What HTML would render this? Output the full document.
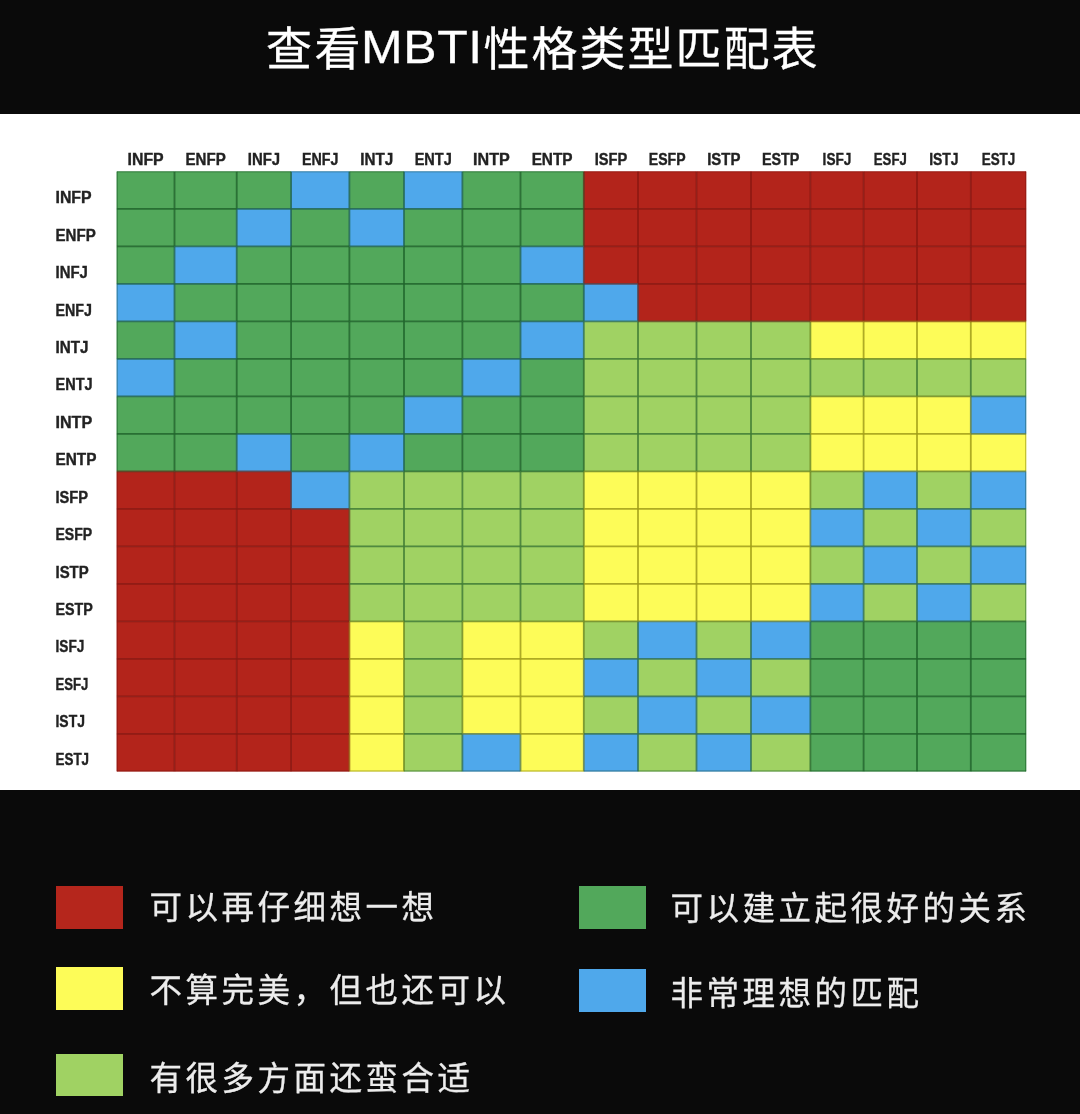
<!DOCTYPE html>
<html lang="zh-CN"><head><meta charset="utf-8"><title>查看MBTI性格类型匹配表</title>
<style>
html,body{margin:0;padding:0;background:#0a0a0a;}
body{width:1080px;height:1114px;position:relative;overflow:hidden;font-family:"Liberation Sans","Noto Sans CJK SC",sans-serif;}
.title{position:absolute;left:0;top:17.6px;width:1080px;height:62px;color:#fff;font-size:46px;line-height:62px;font-weight:400;white-space:nowrap;letter-spacing:2.4px;-webkit-text-stroke:0.3px #fff;}
.title span{position:absolute;top:0;display:block;}
.title .en{font-size:46px;letter-spacing:0.6px;-webkit-text-stroke:0.3px #fff;transform:scaleX(1.085);transform-origin:0 50%;}
.chart{position:absolute;left:0;top:114px;width:1080px;height:675.6px;background:#fff;}
.chart svg{position:absolute;left:0;top:0;}
.lg{position:absolute;color:#ececec;-webkit-text-stroke:0.3px #ececec;font-size:32.5px;line-height:44px;font-weight:400;white-space:nowrap;letter-spacing:3.5px;}
.sw{position:absolute;width:67.2px;height:42.6px;}
</style></head><body>
<div class="title"><span style="left:266px">查看</span><span class="en" style="left:361px;top:-1.8px">MBTI</span><span style="left:483.6px;letter-spacing:2px">性格类型匹配表</span></div>
<div class="chart">
<svg width="1080" height="676" viewBox="0 114 1080 676" font-family="Liberation Sans, sans-serif">

<rect x="116.7" y="171.4" width="57.8" height="37.5" fill="#52a85b"/>
<rect x="174.5" y="171.4" width="62.2" height="37.5" fill="#52a85b"/>
<rect x="236.7" y="171.4" width="54.4" height="37.5" fill="#52a85b"/>
<rect x="291.1" y="171.4" width="58.3" height="37.5" fill="#4fa8eb"/>
<rect x="349.4" y="171.4" width="54.6" height="37.5" fill="#52a85b"/>
<rect x="404" y="171.4" width="58.4" height="37.5" fill="#4fa8eb"/>
<rect x="462.4" y="171.4" width="58.1" height="37.5" fill="#52a85b"/>
<rect x="520.5" y="171.4" width="63.3" height="37.5" fill="#52a85b"/>
<rect x="583.8" y="171.4" width="54.2" height="37.5" fill="#b3241b"/>
<rect x="638" y="171.4" width="58.5" height="37.5" fill="#b3241b"/>
<rect x="696.5" y="171.4" width="54.5" height="37.5" fill="#b3241b"/>
<rect x="751" y="171.4" width="59.4" height="37.5" fill="#b3241b"/>
<rect x="810.4" y="171.4" width="53.2" height="37.5" fill="#b3241b"/>
<rect x="863.6" y="171.4" width="53.4" height="37.5" fill="#b3241b"/>
<rect x="917" y="171.4" width="53.8" height="37.5" fill="#b3241b"/>
<rect x="970.8" y="171.4" width="55.4" height="37.5" fill="#b3241b"/>
<rect x="116.7" y="208.9" width="57.8" height="37.5" fill="#52a85b"/>
<rect x="174.5" y="208.9" width="62.2" height="37.5" fill="#52a85b"/>
<rect x="236.7" y="208.9" width="54.4" height="37.5" fill="#4fa8eb"/>
<rect x="291.1" y="208.9" width="58.3" height="37.5" fill="#52a85b"/>
<rect x="349.4" y="208.9" width="54.6" height="37.5" fill="#4fa8eb"/>
<rect x="404" y="208.9" width="58.4" height="37.5" fill="#52a85b"/>
<rect x="462.4" y="208.9" width="58.1" height="37.5" fill="#52a85b"/>
<rect x="520.5" y="208.9" width="63.3" height="37.5" fill="#52a85b"/>
<rect x="583.8" y="208.9" width="54.2" height="37.5" fill="#b3241b"/>
<rect x="638" y="208.9" width="58.5" height="37.5" fill="#b3241b"/>
<rect x="696.5" y="208.9" width="54.5" height="37.5" fill="#b3241b"/>
<rect x="751" y="208.9" width="59.4" height="37.5" fill="#b3241b"/>
<rect x="810.4" y="208.9" width="53.2" height="37.5" fill="#b3241b"/>
<rect x="863.6" y="208.9" width="53.4" height="37.5" fill="#b3241b"/>
<rect x="917" y="208.9" width="53.8" height="37.5" fill="#b3241b"/>
<rect x="970.8" y="208.9" width="55.4" height="37.5" fill="#b3241b"/>
<rect x="116.7" y="246.4" width="57.8" height="37.5" fill="#52a85b"/>
<rect x="174.5" y="246.4" width="62.2" height="37.5" fill="#4fa8eb"/>
<rect x="236.7" y="246.4" width="54.4" height="37.5" fill="#52a85b"/>
<rect x="291.1" y="246.4" width="58.3" height="37.5" fill="#52a85b"/>
<rect x="349.4" y="246.4" width="54.6" height="37.5" fill="#52a85b"/>
<rect x="404" y="246.4" width="58.4" height="37.5" fill="#52a85b"/>
<rect x="462.4" y="246.4" width="58.1" height="37.5" fill="#52a85b"/>
<rect x="520.5" y="246.4" width="63.3" height="37.5" fill="#4fa8eb"/>
<rect x="583.8" y="246.4" width="54.2" height="37.5" fill="#b3241b"/>
<rect x="638" y="246.4" width="58.5" height="37.5" fill="#b3241b"/>
<rect x="696.5" y="246.4" width="54.5" height="37.5" fill="#b3241b"/>
<rect x="751" y="246.4" width="59.4" height="37.5" fill="#b3241b"/>
<rect x="810.4" y="246.4" width="53.2" height="37.5" fill="#b3241b"/>
<rect x="863.6" y="246.4" width="53.4" height="37.5" fill="#b3241b"/>
<rect x="917" y="246.4" width="53.8" height="37.5" fill="#b3241b"/>
<rect x="970.8" y="246.4" width="55.4" height="37.5" fill="#b3241b"/>
<rect x="116.7" y="283.9" width="57.8" height="37.5" fill="#4fa8eb"/>
<rect x="174.5" y="283.9" width="62.2" height="37.5" fill="#52a85b"/>
<rect x="236.7" y="283.9" width="54.4" height="37.5" fill="#52a85b"/>
<rect x="291.1" y="283.9" width="58.3" height="37.5" fill="#52a85b"/>
<rect x="349.4" y="283.9" width="54.6" height="37.5" fill="#52a85b"/>
<rect x="404" y="283.9" width="58.4" height="37.5" fill="#52a85b"/>
<rect x="462.4" y="283.9" width="58.1" height="37.5" fill="#52a85b"/>
<rect x="520.5" y="283.9" width="63.3" height="37.5" fill="#52a85b"/>
<rect x="583.8" y="283.9" width="54.2" height="37.5" fill="#4fa8eb"/>
<rect x="638" y="283.9" width="58.5" height="37.5" fill="#b3241b"/>
<rect x="696.5" y="283.9" width="54.5" height="37.5" fill="#b3241b"/>
<rect x="751" y="283.9" width="59.4" height="37.5" fill="#b3241b"/>
<rect x="810.4" y="283.9" width="53.2" height="37.5" fill="#b3241b"/>
<rect x="863.6" y="283.9" width="53.4" height="37.5" fill="#b3241b"/>
<rect x="917" y="283.9" width="53.8" height="37.5" fill="#b3241b"/>
<rect x="970.8" y="283.9" width="55.4" height="37.5" fill="#b3241b"/>
<rect x="116.7" y="321.4" width="57.8" height="37.5" fill="#52a85b"/>
<rect x="174.5" y="321.4" width="62.2" height="37.5" fill="#4fa8eb"/>
<rect x="236.7" y="321.4" width="54.4" height="37.5" fill="#52a85b"/>
<rect x="291.1" y="321.4" width="58.3" height="37.5" fill="#52a85b"/>
<rect x="349.4" y="321.4" width="54.6" height="37.5" fill="#52a85b"/>
<rect x="404" y="321.4" width="58.4" height="37.5" fill="#52a85b"/>
<rect x="462.4" y="321.4" width="58.1" height="37.5" fill="#52a85b"/>
<rect x="520.5" y="321.4" width="63.3" height="37.5" fill="#4fa8eb"/>
<rect x="583.8" y="321.4" width="54.2" height="37.5" fill="#a0d263"/>
<rect x="638" y="321.4" width="58.5" height="37.5" fill="#a0d263"/>
<rect x="696.5" y="321.4" width="54.5" height="37.5" fill="#a0d263"/>
<rect x="751" y="321.4" width="59.4" height="37.5" fill="#a0d263"/>
<rect x="810.4" y="321.4" width="53.2" height="37.5" fill="#fdfc58"/>
<rect x="863.6" y="321.4" width="53.4" height="37.5" fill="#fdfc58"/>
<rect x="917" y="321.4" width="53.8" height="37.5" fill="#fdfc58"/>
<rect x="970.8" y="321.4" width="55.4" height="37.5" fill="#fdfc58"/>
<rect x="116.7" y="358.9" width="57.8" height="37.5" fill="#4fa8eb"/>
<rect x="174.5" y="358.9" width="62.2" height="37.5" fill="#52a85b"/>
<rect x="236.7" y="358.9" width="54.4" height="37.5" fill="#52a85b"/>
<rect x="291.1" y="358.9" width="58.3" height="37.5" fill="#52a85b"/>
<rect x="349.4" y="358.9" width="54.6" height="37.5" fill="#52a85b"/>
<rect x="404" y="358.9" width="58.4" height="37.5" fill="#52a85b"/>
<rect x="462.4" y="358.9" width="58.1" height="37.5" fill="#4fa8eb"/>
<rect x="520.5" y="358.9" width="63.3" height="37.5" fill="#52a85b"/>
<rect x="583.8" y="358.9" width="54.2" height="37.5" fill="#a0d263"/>
<rect x="638" y="358.9" width="58.5" height="37.5" fill="#a0d263"/>
<rect x="696.5" y="358.9" width="54.5" height="37.5" fill="#a0d263"/>
<rect x="751" y="358.9" width="59.4" height="37.5" fill="#a0d263"/>
<rect x="810.4" y="358.9" width="53.2" height="37.5" fill="#a0d263"/>
<rect x="863.6" y="358.9" width="53.4" height="37.5" fill="#a0d263"/>
<rect x="917" y="358.9" width="53.8" height="37.5" fill="#a0d263"/>
<rect x="970.8" y="358.9" width="55.4" height="37.5" fill="#a0d263"/>
<rect x="116.7" y="396.4" width="57.8" height="37.5" fill="#52a85b"/>
<rect x="174.5" y="396.4" width="62.2" height="37.5" fill="#52a85b"/>
<rect x="236.7" y="396.4" width="54.4" height="37.5" fill="#52a85b"/>
<rect x="291.1" y="396.4" width="58.3" height="37.5" fill="#52a85b"/>
<rect x="349.4" y="396.4" width="54.6" height="37.5" fill="#52a85b"/>
<rect x="404" y="396.4" width="58.4" height="37.5" fill="#4fa8eb"/>
<rect x="462.4" y="396.4" width="58.1" height="37.5" fill="#52a85b"/>
<rect x="520.5" y="396.4" width="63.3" height="37.5" fill="#52a85b"/>
<rect x="583.8" y="396.4" width="54.2" height="37.5" fill="#a0d263"/>
<rect x="638" y="396.4" width="58.5" height="37.5" fill="#a0d263"/>
<rect x="696.5" y="396.4" width="54.5" height="37.5" fill="#a0d263"/>
<rect x="751" y="396.4" width="59.4" height="37.5" fill="#a0d263"/>
<rect x="810.4" y="396.4" width="53.2" height="37.5" fill="#fdfc58"/>
<rect x="863.6" y="396.4" width="53.4" height="37.5" fill="#fdfc58"/>
<rect x="917" y="396.4" width="53.8" height="37.5" fill="#fdfc58"/>
<rect x="970.8" y="396.4" width="55.4" height="37.5" fill="#4fa8eb"/>
<rect x="116.7" y="433.9" width="57.8" height="37.5" fill="#52a85b"/>
<rect x="174.5" y="433.9" width="62.2" height="37.5" fill="#52a85b"/>
<rect x="236.7" y="433.9" width="54.4" height="37.5" fill="#4fa8eb"/>
<rect x="291.1" y="433.9" width="58.3" height="37.5" fill="#52a85b"/>
<rect x="349.4" y="433.9" width="54.6" height="37.5" fill="#4fa8eb"/>
<rect x="404" y="433.9" width="58.4" height="37.5" fill="#52a85b"/>
<rect x="462.4" y="433.9" width="58.1" height="37.5" fill="#52a85b"/>
<rect x="520.5" y="433.9" width="63.3" height="37.5" fill="#52a85b"/>
<rect x="583.8" y="433.9" width="54.2" height="37.5" fill="#a0d263"/>
<rect x="638" y="433.9" width="58.5" height="37.5" fill="#a0d263"/>
<rect x="696.5" y="433.9" width="54.5" height="37.5" fill="#a0d263"/>
<rect x="751" y="433.9" width="59.4" height="37.5" fill="#a0d263"/>
<rect x="810.4" y="433.9" width="53.2" height="37.5" fill="#fdfc58"/>
<rect x="863.6" y="433.9" width="53.4" height="37.5" fill="#fdfc58"/>
<rect x="917" y="433.9" width="53.8" height="37.5" fill="#fdfc58"/>
<rect x="970.8" y="433.9" width="55.4" height="37.5" fill="#fdfc58"/>
<rect x="116.7" y="471.4" width="57.8" height="37.5" fill="#b3241b"/>
<rect x="174.5" y="471.4" width="62.2" height="37.5" fill="#b3241b"/>
<rect x="236.7" y="471.4" width="54.4" height="37.5" fill="#b3241b"/>
<rect x="291.1" y="471.4" width="58.3" height="37.5" fill="#4fa8eb"/>
<rect x="349.4" y="471.4" width="54.6" height="37.5" fill="#a0d263"/>
<rect x="404" y="471.4" width="58.4" height="37.5" fill="#a0d263"/>
<rect x="462.4" y="471.4" width="58.1" height="37.5" fill="#a0d263"/>
<rect x="520.5" y="471.4" width="63.3" height="37.5" fill="#a0d263"/>
<rect x="583.8" y="471.4" width="54.2" height="37.5" fill="#fdfc58"/>
<rect x="638" y="471.4" width="58.5" height="37.5" fill="#fdfc58"/>
<rect x="696.5" y="471.4" width="54.5" height="37.5" fill="#fdfc58"/>
<rect x="751" y="471.4" width="59.4" height="37.5" fill="#fdfc58"/>
<rect x="810.4" y="471.4" width="53.2" height="37.5" fill="#a0d263"/>
<rect x="863.6" y="471.4" width="53.4" height="37.5" fill="#4fa8eb"/>
<rect x="917" y="471.4" width="53.8" height="37.5" fill="#a0d263"/>
<rect x="970.8" y="471.4" width="55.4" height="37.5" fill="#4fa8eb"/>
<rect x="116.7" y="508.9" width="57.8" height="37.5" fill="#b3241b"/>
<rect x="174.5" y="508.9" width="62.2" height="37.5" fill="#b3241b"/>
<rect x="236.7" y="508.9" width="54.4" height="37.5" fill="#b3241b"/>
<rect x="291.1" y="508.9" width="58.3" height="37.5" fill="#b3241b"/>
<rect x="349.4" y="508.9" width="54.6" height="37.5" fill="#a0d263"/>
<rect x="404" y="508.9" width="58.4" height="37.5" fill="#a0d263"/>
<rect x="462.4" y="508.9" width="58.1" height="37.5" fill="#a0d263"/>
<rect x="520.5" y="508.9" width="63.3" height="37.5" fill="#a0d263"/>
<rect x="583.8" y="508.9" width="54.2" height="37.5" fill="#fdfc58"/>
<rect x="638" y="508.9" width="58.5" height="37.5" fill="#fdfc58"/>
<rect x="696.5" y="508.9" width="54.5" height="37.5" fill="#fdfc58"/>
<rect x="751" y="508.9" width="59.4" height="37.5" fill="#fdfc58"/>
<rect x="810.4" y="508.9" width="53.2" height="37.5" fill="#4fa8eb"/>
<rect x="863.6" y="508.9" width="53.4" height="37.5" fill="#a0d263"/>
<rect x="917" y="508.9" width="53.8" height="37.5" fill="#4fa8eb"/>
<rect x="970.8" y="508.9" width="55.4" height="37.5" fill="#a0d263"/>
<rect x="116.7" y="546.4" width="57.8" height="37.5" fill="#b3241b"/>
<rect x="174.5" y="546.4" width="62.2" height="37.5" fill="#b3241b"/>
<rect x="236.7" y="546.4" width="54.4" height="37.5" fill="#b3241b"/>
<rect x="291.1" y="546.4" width="58.3" height="37.5" fill="#b3241b"/>
<rect x="349.4" y="546.4" width="54.6" height="37.5" fill="#a0d263"/>
<rect x="404" y="546.4" width="58.4" height="37.5" fill="#a0d263"/>
<rect x="462.4" y="546.4" width="58.1" height="37.5" fill="#a0d263"/>
<rect x="520.5" y="546.4" width="63.3" height="37.5" fill="#a0d263"/>
<rect x="583.8" y="546.4" width="54.2" height="37.5" fill="#fdfc58"/>
<rect x="638" y="546.4" width="58.5" height="37.5" fill="#fdfc58"/>
<rect x="696.5" y="546.4" width="54.5" height="37.5" fill="#fdfc58"/>
<rect x="751" y="546.4" width="59.4" height="37.5" fill="#fdfc58"/>
<rect x="810.4" y="546.4" width="53.2" height="37.5" fill="#a0d263"/>
<rect x="863.6" y="546.4" width="53.4" height="37.5" fill="#4fa8eb"/>
<rect x="917" y="546.4" width="53.8" height="37.5" fill="#a0d263"/>
<rect x="970.8" y="546.4" width="55.4" height="37.5" fill="#4fa8eb"/>
<rect x="116.7" y="583.9" width="57.8" height="37.5" fill="#b3241b"/>
<rect x="174.5" y="583.9" width="62.2" height="37.5" fill="#b3241b"/>
<rect x="236.7" y="583.9" width="54.4" height="37.5" fill="#b3241b"/>
<rect x="291.1" y="583.9" width="58.3" height="37.5" fill="#b3241b"/>
<rect x="349.4" y="583.9" width="54.6" height="37.5" fill="#a0d263"/>
<rect x="404" y="583.9" width="58.4" height="37.5" fill="#a0d263"/>
<rect x="462.4" y="583.9" width="58.1" height="37.5" fill="#a0d263"/>
<rect x="520.5" y="583.9" width="63.3" height="37.5" fill="#a0d263"/>
<rect x="583.8" y="583.9" width="54.2" height="37.5" fill="#fdfc58"/>
<rect x="638" y="583.9" width="58.5" height="37.5" fill="#fdfc58"/>
<rect x="696.5" y="583.9" width="54.5" height="37.5" fill="#fdfc58"/>
<rect x="751" y="583.9" width="59.4" height="37.5" fill="#fdfc58"/>
<rect x="810.4" y="583.9" width="53.2" height="37.5" fill="#4fa8eb"/>
<rect x="863.6" y="583.9" width="53.4" height="37.5" fill="#a0d263"/>
<rect x="917" y="583.9" width="53.8" height="37.5" fill="#4fa8eb"/>
<rect x="970.8" y="583.9" width="55.4" height="37.5" fill="#a0d263"/>
<rect x="116.7" y="621.4" width="57.8" height="37.5" fill="#b3241b"/>
<rect x="174.5" y="621.4" width="62.2" height="37.5" fill="#b3241b"/>
<rect x="236.7" y="621.4" width="54.4" height="37.5" fill="#b3241b"/>
<rect x="291.1" y="621.4" width="58.3" height="37.5" fill="#b3241b"/>
<rect x="349.4" y="621.4" width="54.6" height="37.5" fill="#fdfc58"/>
<rect x="404" y="621.4" width="58.4" height="37.5" fill="#a0d263"/>
<rect x="462.4" y="621.4" width="58.1" height="37.5" fill="#fdfc58"/>
<rect x="520.5" y="621.4" width="63.3" height="37.5" fill="#fdfc58"/>
<rect x="583.8" y="621.4" width="54.2" height="37.5" fill="#a0d263"/>
<rect x="638" y="621.4" width="58.5" height="37.5" fill="#4fa8eb"/>
<rect x="696.5" y="621.4" width="54.5" height="37.5" fill="#a0d263"/>
<rect x="751" y="621.4" width="59.4" height="37.5" fill="#4fa8eb"/>
<rect x="810.4" y="621.4" width="53.2" height="37.5" fill="#52a85b"/>
<rect x="863.6" y="621.4" width="53.4" height="37.5" fill="#52a85b"/>
<rect x="917" y="621.4" width="53.8" height="37.5" fill="#52a85b"/>
<rect x="970.8" y="621.4" width="55.4" height="37.5" fill="#52a85b"/>
<rect x="116.7" y="658.9" width="57.8" height="37.5" fill="#b3241b"/>
<rect x="174.5" y="658.9" width="62.2" height="37.5" fill="#b3241b"/>
<rect x="236.7" y="658.9" width="54.4" height="37.5" fill="#b3241b"/>
<rect x="291.1" y="658.9" width="58.3" height="37.5" fill="#b3241b"/>
<rect x="349.4" y="658.9" width="54.6" height="37.5" fill="#fdfc58"/>
<rect x="404" y="658.9" width="58.4" height="37.5" fill="#a0d263"/>
<rect x="462.4" y="658.9" width="58.1" height="37.5" fill="#fdfc58"/>
<rect x="520.5" y="658.9" width="63.3" height="37.5" fill="#fdfc58"/>
<rect x="583.8" y="658.9" width="54.2" height="37.5" fill="#4fa8eb"/>
<rect x="638" y="658.9" width="58.5" height="37.5" fill="#a0d263"/>
<rect x="696.5" y="658.9" width="54.5" height="37.5" fill="#4fa8eb"/>
<rect x="751" y="658.9" width="59.4" height="37.5" fill="#a0d263"/>
<rect x="810.4" y="658.9" width="53.2" height="37.5" fill="#52a85b"/>
<rect x="863.6" y="658.9" width="53.4" height="37.5" fill="#52a85b"/>
<rect x="917" y="658.9" width="53.8" height="37.5" fill="#52a85b"/>
<rect x="970.8" y="658.9" width="55.4" height="37.5" fill="#52a85b"/>
<rect x="116.7" y="696.4" width="57.8" height="37.5" fill="#b3241b"/>
<rect x="174.5" y="696.4" width="62.2" height="37.5" fill="#b3241b"/>
<rect x="236.7" y="696.4" width="54.4" height="37.5" fill="#b3241b"/>
<rect x="291.1" y="696.4" width="58.3" height="37.5" fill="#b3241b"/>
<rect x="349.4" y="696.4" width="54.6" height="37.5" fill="#fdfc58"/>
<rect x="404" y="696.4" width="58.4" height="37.5" fill="#a0d263"/>
<rect x="462.4" y="696.4" width="58.1" height="37.5" fill="#fdfc58"/>
<rect x="520.5" y="696.4" width="63.3" height="37.5" fill="#fdfc58"/>
<rect x="583.8" y="696.4" width="54.2" height="37.5" fill="#a0d263"/>
<rect x="638" y="696.4" width="58.5" height="37.5" fill="#4fa8eb"/>
<rect x="696.5" y="696.4" width="54.5" height="37.5" fill="#a0d263"/>
<rect x="751" y="696.4" width="59.4" height="37.5" fill="#4fa8eb"/>
<rect x="810.4" y="696.4" width="53.2" height="37.5" fill="#52a85b"/>
<rect x="863.6" y="696.4" width="53.4" height="37.5" fill="#52a85b"/>
<rect x="917" y="696.4" width="53.8" height="37.5" fill="#52a85b"/>
<rect x="970.8" y="696.4" width="55.4" height="37.5" fill="#52a85b"/>
<rect x="116.7" y="733.9" width="57.8" height="37.5" fill="#b3241b"/>
<rect x="174.5" y="733.9" width="62.2" height="37.5" fill="#b3241b"/>
<rect x="236.7" y="733.9" width="54.4" height="37.5" fill="#b3241b"/>
<rect x="291.1" y="733.9" width="58.3" height="37.5" fill="#b3241b"/>
<rect x="349.4" y="733.9" width="54.6" height="37.5" fill="#fdfc58"/>
<rect x="404" y="733.9" width="58.4" height="37.5" fill="#a0d263"/>
<rect x="462.4" y="733.9" width="58.1" height="37.5" fill="#4fa8eb"/>
<rect x="520.5" y="733.9" width="63.3" height="37.5" fill="#fdfc58"/>
<rect x="583.8" y="733.9" width="54.2" height="37.5" fill="#4fa8eb"/>
<rect x="638" y="733.9" width="58.5" height="37.5" fill="#a0d263"/>
<rect x="696.5" y="733.9" width="54.5" height="37.5" fill="#4fa8eb"/>
<rect x="751" y="733.9" width="59.4" height="37.5" fill="#a0d263"/>
<rect x="810.4" y="733.9" width="53.2" height="37.5" fill="#52a85b"/>
<rect x="863.6" y="733.9" width="53.4" height="37.5" fill="#52a85b"/>
<rect x="917" y="733.9" width="53.8" height="37.5" fill="#52a85b"/>
<rect x="970.8" y="733.9" width="55.4" height="37.5" fill="#52a85b"/>
<clipPath id="gc"><rect x="116.7" y="171.4" width="909.5" height="600.0"/></clipPath>
<g clip-path="url(#gc)" stroke-width="1.8" fill="none" stroke-opacity="0.85">
<line x1="116.7" y1="171.4" x2="116.7" y2="208.9" stroke="#1e642a"/>
<line x1="174.5" y1="171.4" x2="174.5" y2="208.9" stroke="#1e642a"/>
<line x1="236.7" y1="171.4" x2="236.7" y2="208.9" stroke="#1e642a"/>
<line x1="291.1" y1="171.4" x2="291.1" y2="208.9" stroke="#226654"/>
<line x1="349.4" y1="171.4" x2="349.4" y2="208.9" stroke="#226654"/>
<line x1="404" y1="171.4" x2="404" y2="208.9" stroke="#226654"/>
<line x1="462.4" y1="171.4" x2="462.4" y2="208.9" stroke="#226654"/>
<line x1="520.5" y1="171.4" x2="520.5" y2="208.9" stroke="#1e642a"/>
<line x1="583.8" y1="171.4" x2="583.8" y2="208.9" stroke="#543e1e"/>
<line x1="638" y1="171.4" x2="638" y2="208.9" stroke="#8a1812"/>
<line x1="696.5" y1="171.4" x2="696.5" y2="208.9" stroke="#8a1812"/>
<line x1="751" y1="171.4" x2="751" y2="208.9" stroke="#8a1812"/>
<line x1="810.4" y1="171.4" x2="810.4" y2="208.9" stroke="#8a1812"/>
<line x1="863.6" y1="171.4" x2="863.6" y2="208.9" stroke="#8a1812"/>
<line x1="917" y1="171.4" x2="917" y2="208.9" stroke="#8a1812"/>
<line x1="970.8" y1="171.4" x2="970.8" y2="208.9" stroke="#8a1812"/>
<line x1="1026.2" y1="171.4" x2="1026.2" y2="208.9" stroke="#8a1812"/>
<line x1="116.7" y1="208.9" x2="116.7" y2="246.4" stroke="#1e642a"/>
<line x1="174.5" y1="208.9" x2="174.5" y2="246.4" stroke="#1e642a"/>
<line x1="236.7" y1="208.9" x2="236.7" y2="246.4" stroke="#226654"/>
<line x1="291.1" y1="208.9" x2="291.1" y2="246.4" stroke="#226654"/>
<line x1="349.4" y1="208.9" x2="349.4" y2="246.4" stroke="#226654"/>
<line x1="404" y1="208.9" x2="404" y2="246.4" stroke="#226654"/>
<line x1="462.4" y1="208.9" x2="462.4" y2="246.4" stroke="#1e642a"/>
<line x1="520.5" y1="208.9" x2="520.5" y2="246.4" stroke="#1e642a"/>
<line x1="583.8" y1="208.9" x2="583.8" y2="246.4" stroke="#543e1e"/>
<line x1="638" y1="208.9" x2="638" y2="246.4" stroke="#8a1812"/>
<line x1="696.5" y1="208.9" x2="696.5" y2="246.4" stroke="#8a1812"/>
<line x1="751" y1="208.9" x2="751" y2="246.4" stroke="#8a1812"/>
<line x1="810.4" y1="208.9" x2="810.4" y2="246.4" stroke="#8a1812"/>
<line x1="863.6" y1="208.9" x2="863.6" y2="246.4" stroke="#8a1812"/>
<line x1="917" y1="208.9" x2="917" y2="246.4" stroke="#8a1812"/>
<line x1="970.8" y1="208.9" x2="970.8" y2="246.4" stroke="#8a1812"/>
<line x1="1026.2" y1="208.9" x2="1026.2" y2="246.4" stroke="#8a1812"/>
<line x1="116.7" y1="246.4" x2="116.7" y2="283.9" stroke="#1e642a"/>
<line x1="174.5" y1="246.4" x2="174.5" y2="283.9" stroke="#226654"/>
<line x1="236.7" y1="246.4" x2="236.7" y2="283.9" stroke="#226654"/>
<line x1="291.1" y1="246.4" x2="291.1" y2="283.9" stroke="#1e642a"/>
<line x1="349.4" y1="246.4" x2="349.4" y2="283.9" stroke="#1e642a"/>
<line x1="404" y1="246.4" x2="404" y2="283.9" stroke="#1e642a"/>
<line x1="462.4" y1="246.4" x2="462.4" y2="283.9" stroke="#1e642a"/>
<line x1="520.5" y1="246.4" x2="520.5" y2="283.9" stroke="#226654"/>
<line x1="583.8" y1="246.4" x2="583.8" y2="283.9" stroke="#584048"/>
<line x1="638" y1="246.4" x2="638" y2="283.9" stroke="#8a1812"/>
<line x1="696.5" y1="246.4" x2="696.5" y2="283.9" stroke="#8a1812"/>
<line x1="751" y1="246.4" x2="751" y2="283.9" stroke="#8a1812"/>
<line x1="810.4" y1="246.4" x2="810.4" y2="283.9" stroke="#8a1812"/>
<line x1="863.6" y1="246.4" x2="863.6" y2="283.9" stroke="#8a1812"/>
<line x1="917" y1="246.4" x2="917" y2="283.9" stroke="#8a1812"/>
<line x1="970.8" y1="246.4" x2="970.8" y2="283.9" stroke="#8a1812"/>
<line x1="1026.2" y1="246.4" x2="1026.2" y2="283.9" stroke="#8a1812"/>
<line x1="116.7" y1="283.9" x2="116.7" y2="321.4" stroke="#26697d"/>
<line x1="174.5" y1="283.9" x2="174.5" y2="321.4" stroke="#226654"/>
<line x1="236.7" y1="283.9" x2="236.7" y2="321.4" stroke="#1e642a"/>
<line x1="291.1" y1="283.9" x2="291.1" y2="321.4" stroke="#1e642a"/>
<line x1="349.4" y1="283.9" x2="349.4" y2="321.4" stroke="#1e642a"/>
<line x1="404" y1="283.9" x2="404" y2="321.4" stroke="#1e642a"/>
<line x1="462.4" y1="283.9" x2="462.4" y2="321.4" stroke="#1e642a"/>
<line x1="520.5" y1="283.9" x2="520.5" y2="321.4" stroke="#1e642a"/>
<line x1="583.8" y1="283.9" x2="583.8" y2="321.4" stroke="#226654"/>
<line x1="638" y1="283.9" x2="638" y2="321.4" stroke="#584048"/>
<line x1="696.5" y1="283.9" x2="696.5" y2="321.4" stroke="#8a1812"/>
<line x1="751" y1="283.9" x2="751" y2="321.4" stroke="#8a1812"/>
<line x1="810.4" y1="283.9" x2="810.4" y2="321.4" stroke="#8a1812"/>
<line x1="863.6" y1="283.9" x2="863.6" y2="321.4" stroke="#8a1812"/>
<line x1="917" y1="283.9" x2="917" y2="321.4" stroke="#8a1812"/>
<line x1="970.8" y1="283.9" x2="970.8" y2="321.4" stroke="#8a1812"/>
<line x1="1026.2" y1="283.9" x2="1026.2" y2="321.4" stroke="#8a1812"/>
<line x1="116.7" y1="321.4" x2="116.7" y2="358.9" stroke="#1e642a"/>
<line x1="174.5" y1="321.4" x2="174.5" y2="358.9" stroke="#226654"/>
<line x1="236.7" y1="321.4" x2="236.7" y2="358.9" stroke="#226654"/>
<line x1="291.1" y1="321.4" x2="291.1" y2="358.9" stroke="#1e642a"/>
<line x1="349.4" y1="321.4" x2="349.4" y2="358.9" stroke="#1e642a"/>
<line x1="404" y1="321.4" x2="404" y2="358.9" stroke="#1e642a"/>
<line x1="462.4" y1="321.4" x2="462.4" y2="358.9" stroke="#1e642a"/>
<line x1="520.5" y1="321.4" x2="520.5" y2="358.9" stroke="#226654"/>
<line x1="583.8" y1="321.4" x2="583.8" y2="358.9" stroke="#327258"/>
<line x1="638" y1="321.4" x2="638" y2="358.9" stroke="#3e7a34"/>
<line x1="696.5" y1="321.4" x2="696.5" y2="358.9" stroke="#3e7a34"/>
<line x1="751" y1="321.4" x2="751" y2="358.9" stroke="#3e7a34"/>
<line x1="810.4" y1="321.4" x2="810.4" y2="358.9" stroke="#6f8b25"/>
<line x1="863.6" y1="321.4" x2="863.6" y2="358.9" stroke="#a09c16"/>
<line x1="917" y1="321.4" x2="917" y2="358.9" stroke="#a09c16"/>
<line x1="970.8" y1="321.4" x2="970.8" y2="358.9" stroke="#a09c16"/>
<line x1="1026.2" y1="321.4" x2="1026.2" y2="358.9" stroke="#a09c16"/>
<line x1="116.7" y1="358.9" x2="116.7" y2="396.4" stroke="#26697d"/>
<line x1="174.5" y1="358.9" x2="174.5" y2="396.4" stroke="#226654"/>
<line x1="236.7" y1="358.9" x2="236.7" y2="396.4" stroke="#1e642a"/>
<line x1="291.1" y1="358.9" x2="291.1" y2="396.4" stroke="#1e642a"/>
<line x1="349.4" y1="358.9" x2="349.4" y2="396.4" stroke="#1e642a"/>
<line x1="404" y1="358.9" x2="404" y2="396.4" stroke="#1e642a"/>
<line x1="462.4" y1="358.9" x2="462.4" y2="396.4" stroke="#226654"/>
<line x1="520.5" y1="358.9" x2="520.5" y2="396.4" stroke="#226654"/>
<line x1="583.8" y1="358.9" x2="583.8" y2="396.4" stroke="#2e6f2f"/>
<line x1="638" y1="358.9" x2="638" y2="396.4" stroke="#3e7a34"/>
<line x1="696.5" y1="358.9" x2="696.5" y2="396.4" stroke="#3e7a34"/>
<line x1="751" y1="358.9" x2="751" y2="396.4" stroke="#3e7a34"/>
<line x1="810.4" y1="358.9" x2="810.4" y2="396.4" stroke="#3e7a34"/>
<line x1="863.6" y1="358.9" x2="863.6" y2="396.4" stroke="#3e7a34"/>
<line x1="917" y1="358.9" x2="917" y2="396.4" stroke="#3e7a34"/>
<line x1="970.8" y1="358.9" x2="970.8" y2="396.4" stroke="#3e7a34"/>
<line x1="1026.2" y1="358.9" x2="1026.2" y2="396.4" stroke="#3e7a34"/>
<line x1="116.7" y1="396.4" x2="116.7" y2="433.9" stroke="#1e642a"/>
<line x1="174.5" y1="396.4" x2="174.5" y2="433.9" stroke="#1e642a"/>
<line x1="236.7" y1="396.4" x2="236.7" y2="433.9" stroke="#1e642a"/>
<line x1="291.1" y1="396.4" x2="291.1" y2="433.9" stroke="#1e642a"/>
<line x1="349.4" y1="396.4" x2="349.4" y2="433.9" stroke="#1e642a"/>
<line x1="404" y1="396.4" x2="404" y2="433.9" stroke="#226654"/>
<line x1="462.4" y1="396.4" x2="462.4" y2="433.9" stroke="#226654"/>
<line x1="520.5" y1="396.4" x2="520.5" y2="433.9" stroke="#1e642a"/>
<line x1="583.8" y1="396.4" x2="583.8" y2="433.9" stroke="#2e6f2f"/>
<line x1="638" y1="396.4" x2="638" y2="433.9" stroke="#3e7a34"/>
<line x1="696.5" y1="396.4" x2="696.5" y2="433.9" stroke="#3e7a34"/>
<line x1="751" y1="396.4" x2="751" y2="433.9" stroke="#3e7a34"/>
<line x1="810.4" y1="396.4" x2="810.4" y2="433.9" stroke="#6f8b25"/>
<line x1="863.6" y1="396.4" x2="863.6" y2="433.9" stroke="#a09c16"/>
<line x1="917" y1="396.4" x2="917" y2="433.9" stroke="#a09c16"/>
<line x1="970.8" y1="396.4" x2="970.8" y2="433.9" stroke="#63824a"/>
<line x1="1026.2" y1="396.4" x2="1026.2" y2="433.9" stroke="#26697d"/>
<line x1="116.7" y1="433.9" x2="116.7" y2="471.4" stroke="#1e642a"/>
<line x1="174.5" y1="433.9" x2="174.5" y2="471.4" stroke="#1e642a"/>
<line x1="236.7" y1="433.9" x2="236.7" y2="471.4" stroke="#226654"/>
<line x1="291.1" y1="433.9" x2="291.1" y2="471.4" stroke="#226654"/>
<line x1="349.4" y1="433.9" x2="349.4" y2="471.4" stroke="#226654"/>
<line x1="404" y1="433.9" x2="404" y2="471.4" stroke="#226654"/>
<line x1="462.4" y1="433.9" x2="462.4" y2="471.4" stroke="#1e642a"/>
<line x1="520.5" y1="433.9" x2="520.5" y2="471.4" stroke="#1e642a"/>
<line x1="583.8" y1="433.9" x2="583.8" y2="471.4" stroke="#2e6f2f"/>
<line x1="638" y1="433.9" x2="638" y2="471.4" stroke="#3e7a34"/>
<line x1="696.5" y1="433.9" x2="696.5" y2="471.4" stroke="#3e7a34"/>
<line x1="751" y1="433.9" x2="751" y2="471.4" stroke="#3e7a34"/>
<line x1="810.4" y1="433.9" x2="810.4" y2="471.4" stroke="#6f8b25"/>
<line x1="863.6" y1="433.9" x2="863.6" y2="471.4" stroke="#a09c16"/>
<line x1="917" y1="433.9" x2="917" y2="471.4" stroke="#a09c16"/>
<line x1="970.8" y1="433.9" x2="970.8" y2="471.4" stroke="#a09c16"/>
<line x1="1026.2" y1="433.9" x2="1026.2" y2="471.4" stroke="#a09c16"/>
<line x1="116.7" y1="471.4" x2="116.7" y2="508.9" stroke="#8a1812"/>
<line x1="174.5" y1="471.4" x2="174.5" y2="508.9" stroke="#8a1812"/>
<line x1="236.7" y1="471.4" x2="236.7" y2="508.9" stroke="#8a1812"/>
<line x1="291.1" y1="471.4" x2="291.1" y2="508.9" stroke="#584048"/>
<line x1="349.4" y1="471.4" x2="349.4" y2="508.9" stroke="#327258"/>
<line x1="404" y1="471.4" x2="404" y2="508.9" stroke="#3e7a34"/>
<line x1="462.4" y1="471.4" x2="462.4" y2="508.9" stroke="#3e7a34"/>
<line x1="520.5" y1="471.4" x2="520.5" y2="508.9" stroke="#3e7a34"/>
<line x1="583.8" y1="471.4" x2="583.8" y2="508.9" stroke="#6f8b25"/>
<line x1="638" y1="471.4" x2="638" y2="508.9" stroke="#a09c16"/>
<line x1="696.5" y1="471.4" x2="696.5" y2="508.9" stroke="#a09c16"/>
<line x1="751" y1="471.4" x2="751" y2="508.9" stroke="#a09c16"/>
<line x1="810.4" y1="471.4" x2="810.4" y2="508.9" stroke="#6f8b25"/>
<line x1="863.6" y1="471.4" x2="863.6" y2="508.9" stroke="#327258"/>
<line x1="917" y1="471.4" x2="917" y2="508.9" stroke="#327258"/>
<line x1="970.8" y1="471.4" x2="970.8" y2="508.9" stroke="#327258"/>
<line x1="1026.2" y1="471.4" x2="1026.2" y2="508.9" stroke="#26697d"/>
<line x1="116.7" y1="508.9" x2="116.7" y2="546.4" stroke="#8a1812"/>
<line x1="174.5" y1="508.9" x2="174.5" y2="546.4" stroke="#8a1812"/>
<line x1="236.7" y1="508.9" x2="236.7" y2="546.4" stroke="#8a1812"/>
<line x1="291.1" y1="508.9" x2="291.1" y2="546.4" stroke="#8a1812"/>
<line x1="349.4" y1="508.9" x2="349.4" y2="546.4" stroke="#644923"/>
<line x1="404" y1="508.9" x2="404" y2="546.4" stroke="#3e7a34"/>
<line x1="462.4" y1="508.9" x2="462.4" y2="546.4" stroke="#3e7a34"/>
<line x1="520.5" y1="508.9" x2="520.5" y2="546.4" stroke="#3e7a34"/>
<line x1="583.8" y1="508.9" x2="583.8" y2="546.4" stroke="#6f8b25"/>
<line x1="638" y1="508.9" x2="638" y2="546.4" stroke="#a09c16"/>
<line x1="696.5" y1="508.9" x2="696.5" y2="546.4" stroke="#a09c16"/>
<line x1="751" y1="508.9" x2="751" y2="546.4" stroke="#a09c16"/>
<line x1="810.4" y1="508.9" x2="810.4" y2="546.4" stroke="#63824a"/>
<line x1="863.6" y1="508.9" x2="863.6" y2="546.4" stroke="#327258"/>
<line x1="917" y1="508.9" x2="917" y2="546.4" stroke="#327258"/>
<line x1="970.8" y1="508.9" x2="970.8" y2="546.4" stroke="#327258"/>
<line x1="1026.2" y1="508.9" x2="1026.2" y2="546.4" stroke="#3e7a34"/>
<line x1="116.7" y1="546.4" x2="116.7" y2="583.9" stroke="#8a1812"/>
<line x1="174.5" y1="546.4" x2="174.5" y2="583.9" stroke="#8a1812"/>
<line x1="236.7" y1="546.4" x2="236.7" y2="583.9" stroke="#8a1812"/>
<line x1="291.1" y1="546.4" x2="291.1" y2="583.9" stroke="#8a1812"/>
<line x1="349.4" y1="546.4" x2="349.4" y2="583.9" stroke="#644923"/>
<line x1="404" y1="546.4" x2="404" y2="583.9" stroke="#3e7a34"/>
<line x1="462.4" y1="546.4" x2="462.4" y2="583.9" stroke="#3e7a34"/>
<line x1="520.5" y1="546.4" x2="520.5" y2="583.9" stroke="#3e7a34"/>
<line x1="583.8" y1="546.4" x2="583.8" y2="583.9" stroke="#6f8b25"/>
<line x1="638" y1="546.4" x2="638" y2="583.9" stroke="#a09c16"/>
<line x1="696.5" y1="546.4" x2="696.5" y2="583.9" stroke="#a09c16"/>
<line x1="751" y1="546.4" x2="751" y2="583.9" stroke="#a09c16"/>
<line x1="810.4" y1="546.4" x2="810.4" y2="583.9" stroke="#6f8b25"/>
<line x1="863.6" y1="546.4" x2="863.6" y2="583.9" stroke="#327258"/>
<line x1="917" y1="546.4" x2="917" y2="583.9" stroke="#327258"/>
<line x1="970.8" y1="546.4" x2="970.8" y2="583.9" stroke="#327258"/>
<line x1="1026.2" y1="546.4" x2="1026.2" y2="583.9" stroke="#26697d"/>
<line x1="116.7" y1="583.9" x2="116.7" y2="621.4" stroke="#8a1812"/>
<line x1="174.5" y1="583.9" x2="174.5" y2="621.4" stroke="#8a1812"/>
<line x1="236.7" y1="583.9" x2="236.7" y2="621.4" stroke="#8a1812"/>
<line x1="291.1" y1="583.9" x2="291.1" y2="621.4" stroke="#8a1812"/>
<line x1="349.4" y1="583.9" x2="349.4" y2="621.4" stroke="#644923"/>
<line x1="404" y1="583.9" x2="404" y2="621.4" stroke="#3e7a34"/>
<line x1="462.4" y1="583.9" x2="462.4" y2="621.4" stroke="#3e7a34"/>
<line x1="520.5" y1="583.9" x2="520.5" y2="621.4" stroke="#3e7a34"/>
<line x1="583.8" y1="583.9" x2="583.8" y2="621.4" stroke="#6f8b25"/>
<line x1="638" y1="583.9" x2="638" y2="621.4" stroke="#a09c16"/>
<line x1="696.5" y1="583.9" x2="696.5" y2="621.4" stroke="#a09c16"/>
<line x1="751" y1="583.9" x2="751" y2="621.4" stroke="#a09c16"/>
<line x1="810.4" y1="583.9" x2="810.4" y2="621.4" stroke="#63824a"/>
<line x1="863.6" y1="583.9" x2="863.6" y2="621.4" stroke="#327258"/>
<line x1="917" y1="583.9" x2="917" y2="621.4" stroke="#327258"/>
<line x1="970.8" y1="583.9" x2="970.8" y2="621.4" stroke="#327258"/>
<line x1="1026.2" y1="583.9" x2="1026.2" y2="621.4" stroke="#3e7a34"/>
<line x1="116.7" y1="621.4" x2="116.7" y2="658.9" stroke="#8a1812"/>
<line x1="174.5" y1="621.4" x2="174.5" y2="658.9" stroke="#8a1812"/>
<line x1="236.7" y1="621.4" x2="236.7" y2="658.9" stroke="#8a1812"/>
<line x1="291.1" y1="621.4" x2="291.1" y2="658.9" stroke="#8a1812"/>
<line x1="349.4" y1="621.4" x2="349.4" y2="658.9" stroke="#955a14"/>
<line x1="404" y1="621.4" x2="404" y2="658.9" stroke="#6f8b25"/>
<line x1="462.4" y1="621.4" x2="462.4" y2="658.9" stroke="#6f8b25"/>
<line x1="520.5" y1="621.4" x2="520.5" y2="658.9" stroke="#a09c16"/>
<line x1="583.8" y1="621.4" x2="583.8" y2="658.9" stroke="#6f8b25"/>
<line x1="638" y1="621.4" x2="638" y2="658.9" stroke="#327258"/>
<line x1="696.5" y1="621.4" x2="696.5" y2="658.9" stroke="#327258"/>
<line x1="751" y1="621.4" x2="751" y2="658.9" stroke="#327258"/>
<line x1="810.4" y1="621.4" x2="810.4" y2="658.9" stroke="#226654"/>
<line x1="863.6" y1="621.4" x2="863.6" y2="658.9" stroke="#1e642a"/>
<line x1="917" y1="621.4" x2="917" y2="658.9" stroke="#1e642a"/>
<line x1="970.8" y1="621.4" x2="970.8" y2="658.9" stroke="#1e642a"/>
<line x1="1026.2" y1="621.4" x2="1026.2" y2="658.9" stroke="#1e642a"/>
<line x1="116.7" y1="658.9" x2="116.7" y2="696.4" stroke="#8a1812"/>
<line x1="174.5" y1="658.9" x2="174.5" y2="696.4" stroke="#8a1812"/>
<line x1="236.7" y1="658.9" x2="236.7" y2="696.4" stroke="#8a1812"/>
<line x1="291.1" y1="658.9" x2="291.1" y2="696.4" stroke="#8a1812"/>
<line x1="349.4" y1="658.9" x2="349.4" y2="696.4" stroke="#955a14"/>
<line x1="404" y1="658.9" x2="404" y2="696.4" stroke="#6f8b25"/>
<line x1="462.4" y1="658.9" x2="462.4" y2="696.4" stroke="#6f8b25"/>
<line x1="520.5" y1="658.9" x2="520.5" y2="696.4" stroke="#a09c16"/>
<line x1="583.8" y1="658.9" x2="583.8" y2="696.4" stroke="#63824a"/>
<line x1="638" y1="658.9" x2="638" y2="696.4" stroke="#327258"/>
<line x1="696.5" y1="658.9" x2="696.5" y2="696.4" stroke="#327258"/>
<line x1="751" y1="658.9" x2="751" y2="696.4" stroke="#327258"/>
<line x1="810.4" y1="658.9" x2="810.4" y2="696.4" stroke="#2e6f2f"/>
<line x1="863.6" y1="658.9" x2="863.6" y2="696.4" stroke="#1e642a"/>
<line x1="917" y1="658.9" x2="917" y2="696.4" stroke="#1e642a"/>
<line x1="970.8" y1="658.9" x2="970.8" y2="696.4" stroke="#1e642a"/>
<line x1="1026.2" y1="658.9" x2="1026.2" y2="696.4" stroke="#1e642a"/>
<line x1="116.7" y1="696.4" x2="116.7" y2="733.9" stroke="#8a1812"/>
<line x1="174.5" y1="696.4" x2="174.5" y2="733.9" stroke="#8a1812"/>
<line x1="236.7" y1="696.4" x2="236.7" y2="733.9" stroke="#8a1812"/>
<line x1="291.1" y1="696.4" x2="291.1" y2="733.9" stroke="#8a1812"/>
<line x1="349.4" y1="696.4" x2="349.4" y2="733.9" stroke="#955a14"/>
<line x1="404" y1="696.4" x2="404" y2="733.9" stroke="#6f8b25"/>
<line x1="462.4" y1="696.4" x2="462.4" y2="733.9" stroke="#6f8b25"/>
<line x1="520.5" y1="696.4" x2="520.5" y2="733.9" stroke="#a09c16"/>
<line x1="583.8" y1="696.4" x2="583.8" y2="733.9" stroke="#6f8b25"/>
<line x1="638" y1="696.4" x2="638" y2="733.9" stroke="#327258"/>
<line x1="696.5" y1="696.4" x2="696.5" y2="733.9" stroke="#327258"/>
<line x1="751" y1="696.4" x2="751" y2="733.9" stroke="#327258"/>
<line x1="810.4" y1="696.4" x2="810.4" y2="733.9" stroke="#226654"/>
<line x1="863.6" y1="696.4" x2="863.6" y2="733.9" stroke="#1e642a"/>
<line x1="917" y1="696.4" x2="917" y2="733.9" stroke="#1e642a"/>
<line x1="970.8" y1="696.4" x2="970.8" y2="733.9" stroke="#1e642a"/>
<line x1="1026.2" y1="696.4" x2="1026.2" y2="733.9" stroke="#1e642a"/>
<line x1="116.7" y1="733.9" x2="116.7" y2="771.4" stroke="#8a1812"/>
<line x1="174.5" y1="733.9" x2="174.5" y2="771.4" stroke="#8a1812"/>
<line x1="236.7" y1="733.9" x2="236.7" y2="771.4" stroke="#8a1812"/>
<line x1="291.1" y1="733.9" x2="291.1" y2="771.4" stroke="#8a1812"/>
<line x1="349.4" y1="733.9" x2="349.4" y2="771.4" stroke="#955a14"/>
<line x1="404" y1="733.9" x2="404" y2="771.4" stroke="#6f8b25"/>
<line x1="462.4" y1="733.9" x2="462.4" y2="771.4" stroke="#327258"/>
<line x1="520.5" y1="733.9" x2="520.5" y2="771.4" stroke="#63824a"/>
<line x1="583.8" y1="733.9" x2="583.8" y2="771.4" stroke="#63824a"/>
<line x1="638" y1="733.9" x2="638" y2="771.4" stroke="#327258"/>
<line x1="696.5" y1="733.9" x2="696.5" y2="771.4" stroke="#327258"/>
<line x1="751" y1="733.9" x2="751" y2="771.4" stroke="#327258"/>
<line x1="810.4" y1="733.9" x2="810.4" y2="771.4" stroke="#2e6f2f"/>
<line x1="863.6" y1="733.9" x2="863.6" y2="771.4" stroke="#1e642a"/>
<line x1="917" y1="733.9" x2="917" y2="771.4" stroke="#1e642a"/>
<line x1="970.8" y1="733.9" x2="970.8" y2="771.4" stroke="#1e642a"/>
<line x1="1026.2" y1="733.9" x2="1026.2" y2="771.4" stroke="#1e642a"/>
<line x1="116.7" y1="171.4" x2="174.5" y2="171.4" stroke="#1e642a"/>
<line x1="174.5" y1="171.4" x2="236.7" y2="171.4" stroke="#1e642a"/>
<line x1="236.7" y1="171.4" x2="291.1" y2="171.4" stroke="#1e642a"/>
<line x1="291.1" y1="171.4" x2="349.4" y2="171.4" stroke="#26697d"/>
<line x1="349.4" y1="171.4" x2="404" y2="171.4" stroke="#1e642a"/>
<line x1="404" y1="171.4" x2="462.4" y2="171.4" stroke="#26697d"/>
<line x1="462.4" y1="171.4" x2="520.5" y2="171.4" stroke="#1e642a"/>
<line x1="520.5" y1="171.4" x2="583.8" y2="171.4" stroke="#1e642a"/>
<line x1="583.8" y1="171.4" x2="638" y2="171.4" stroke="#8a1812"/>
<line x1="638" y1="171.4" x2="696.5" y2="171.4" stroke="#8a1812"/>
<line x1="696.5" y1="171.4" x2="751" y2="171.4" stroke="#8a1812"/>
<line x1="751" y1="171.4" x2="810.4" y2="171.4" stroke="#8a1812"/>
<line x1="810.4" y1="171.4" x2="863.6" y2="171.4" stroke="#8a1812"/>
<line x1="863.6" y1="171.4" x2="917" y2="171.4" stroke="#8a1812"/>
<line x1="917" y1="171.4" x2="970.8" y2="171.4" stroke="#8a1812"/>
<line x1="970.8" y1="171.4" x2="1026.2" y2="171.4" stroke="#8a1812"/>
<line x1="116.7" y1="208.9" x2="174.5" y2="208.9" stroke="#1e642a"/>
<line x1="174.5" y1="208.9" x2="236.7" y2="208.9" stroke="#1e642a"/>
<line x1="236.7" y1="208.9" x2="291.1" y2="208.9" stroke="#226654"/>
<line x1="291.1" y1="208.9" x2="349.4" y2="208.9" stroke="#226654"/>
<line x1="349.4" y1="208.9" x2="404" y2="208.9" stroke="#226654"/>
<line x1="404" y1="208.9" x2="462.4" y2="208.9" stroke="#226654"/>
<line x1="462.4" y1="208.9" x2="520.5" y2="208.9" stroke="#1e642a"/>
<line x1="520.5" y1="208.9" x2="583.8" y2="208.9" stroke="#1e642a"/>
<line x1="583.8" y1="208.9" x2="638" y2="208.9" stroke="#8a1812"/>
<line x1="638" y1="208.9" x2="696.5" y2="208.9" stroke="#8a1812"/>
<line x1="696.5" y1="208.9" x2="751" y2="208.9" stroke="#8a1812"/>
<line x1="751" y1="208.9" x2="810.4" y2="208.9" stroke="#8a1812"/>
<line x1="810.4" y1="208.9" x2="863.6" y2="208.9" stroke="#8a1812"/>
<line x1="863.6" y1="208.9" x2="917" y2="208.9" stroke="#8a1812"/>
<line x1="917" y1="208.9" x2="970.8" y2="208.9" stroke="#8a1812"/>
<line x1="970.8" y1="208.9" x2="1026.2" y2="208.9" stroke="#8a1812"/>
<line x1="116.7" y1="246.4" x2="174.5" y2="246.4" stroke="#1e642a"/>
<line x1="174.5" y1="246.4" x2="236.7" y2="246.4" stroke="#226654"/>
<line x1="236.7" y1="246.4" x2="291.1" y2="246.4" stroke="#226654"/>
<line x1="291.1" y1="246.4" x2="349.4" y2="246.4" stroke="#1e642a"/>
<line x1="349.4" y1="246.4" x2="404" y2="246.4" stroke="#226654"/>
<line x1="404" y1="246.4" x2="462.4" y2="246.4" stroke="#1e642a"/>
<line x1="462.4" y1="246.4" x2="520.5" y2="246.4" stroke="#1e642a"/>
<line x1="520.5" y1="246.4" x2="583.8" y2="246.4" stroke="#226654"/>
<line x1="583.8" y1="246.4" x2="638" y2="246.4" stroke="#8a1812"/>
<line x1="638" y1="246.4" x2="696.5" y2="246.4" stroke="#8a1812"/>
<line x1="696.5" y1="246.4" x2="751" y2="246.4" stroke="#8a1812"/>
<line x1="751" y1="246.4" x2="810.4" y2="246.4" stroke="#8a1812"/>
<line x1="810.4" y1="246.4" x2="863.6" y2="246.4" stroke="#8a1812"/>
<line x1="863.6" y1="246.4" x2="917" y2="246.4" stroke="#8a1812"/>
<line x1="917" y1="246.4" x2="970.8" y2="246.4" stroke="#8a1812"/>
<line x1="970.8" y1="246.4" x2="1026.2" y2="246.4" stroke="#8a1812"/>
<line x1="116.7" y1="283.9" x2="174.5" y2="283.9" stroke="#226654"/>
<line x1="174.5" y1="283.9" x2="236.7" y2="283.9" stroke="#226654"/>
<line x1="236.7" y1="283.9" x2="291.1" y2="283.9" stroke="#1e642a"/>
<line x1="291.1" y1="283.9" x2="349.4" y2="283.9" stroke="#1e642a"/>
<line x1="349.4" y1="283.9" x2="404" y2="283.9" stroke="#1e642a"/>
<line x1="404" y1="283.9" x2="462.4" y2="283.9" stroke="#1e642a"/>
<line x1="462.4" y1="283.9" x2="520.5" y2="283.9" stroke="#1e642a"/>
<line x1="520.5" y1="283.9" x2="583.8" y2="283.9" stroke="#226654"/>
<line x1="583.8" y1="283.9" x2="638" y2="283.9" stroke="#584048"/>
<line x1="638" y1="283.9" x2="696.5" y2="283.9" stroke="#8a1812"/>
<line x1="696.5" y1="283.9" x2="751" y2="283.9" stroke="#8a1812"/>
<line x1="751" y1="283.9" x2="810.4" y2="283.9" stroke="#8a1812"/>
<line x1="810.4" y1="283.9" x2="863.6" y2="283.9" stroke="#8a1812"/>
<line x1="863.6" y1="283.9" x2="917" y2="283.9" stroke="#8a1812"/>
<line x1="917" y1="283.9" x2="970.8" y2="283.9" stroke="#8a1812"/>
<line x1="970.8" y1="283.9" x2="1026.2" y2="283.9" stroke="#8a1812"/>
<line x1="116.7" y1="321.4" x2="174.5" y2="321.4" stroke="#226654"/>
<line x1="174.5" y1="321.4" x2="236.7" y2="321.4" stroke="#226654"/>
<line x1="236.7" y1="321.4" x2="291.1" y2="321.4" stroke="#1e642a"/>
<line x1="291.1" y1="321.4" x2="349.4" y2="321.4" stroke="#1e642a"/>
<line x1="349.4" y1="321.4" x2="404" y2="321.4" stroke="#1e642a"/>
<line x1="404" y1="321.4" x2="462.4" y2="321.4" stroke="#1e642a"/>
<line x1="462.4" y1="321.4" x2="520.5" y2="321.4" stroke="#1e642a"/>
<line x1="520.5" y1="321.4" x2="583.8" y2="321.4" stroke="#226654"/>
<line x1="583.8" y1="321.4" x2="638" y2="321.4" stroke="#327258"/>
<line x1="638" y1="321.4" x2="696.5" y2="321.4" stroke="#644923"/>
<line x1="696.5" y1="321.4" x2="751" y2="321.4" stroke="#644923"/>
<line x1="751" y1="321.4" x2="810.4" y2="321.4" stroke="#644923"/>
<line x1="810.4" y1="321.4" x2="863.6" y2="321.4" stroke="#955a14"/>
<line x1="863.6" y1="321.4" x2="917" y2="321.4" stroke="#955a14"/>
<line x1="917" y1="321.4" x2="970.8" y2="321.4" stroke="#955a14"/>
<line x1="970.8" y1="321.4" x2="1026.2" y2="321.4" stroke="#955a14"/>
<line x1="116.7" y1="358.9" x2="174.5" y2="358.9" stroke="#226654"/>
<line x1="174.5" y1="358.9" x2="236.7" y2="358.9" stroke="#226654"/>
<line x1="236.7" y1="358.9" x2="291.1" y2="358.9" stroke="#1e642a"/>
<line x1="291.1" y1="358.9" x2="349.4" y2="358.9" stroke="#1e642a"/>
<line x1="349.4" y1="358.9" x2="404" y2="358.9" stroke="#1e642a"/>
<line x1="404" y1="358.9" x2="462.4" y2="358.9" stroke="#1e642a"/>
<line x1="462.4" y1="358.9" x2="520.5" y2="358.9" stroke="#226654"/>
<line x1="520.5" y1="358.9" x2="583.8" y2="358.9" stroke="#226654"/>
<line x1="583.8" y1="358.9" x2="638" y2="358.9" stroke="#3e7a34"/>
<line x1="638" y1="358.9" x2="696.5" y2="358.9" stroke="#3e7a34"/>
<line x1="696.5" y1="358.9" x2="751" y2="358.9" stroke="#3e7a34"/>
<line x1="751" y1="358.9" x2="810.4" y2="358.9" stroke="#3e7a34"/>
<line x1="810.4" y1="358.9" x2="863.6" y2="358.9" stroke="#6f8b25"/>
<line x1="863.6" y1="358.9" x2="917" y2="358.9" stroke="#6f8b25"/>
<line x1="917" y1="358.9" x2="970.8" y2="358.9" stroke="#6f8b25"/>
<line x1="970.8" y1="358.9" x2="1026.2" y2="358.9" stroke="#6f8b25"/>
<line x1="116.7" y1="396.4" x2="174.5" y2="396.4" stroke="#226654"/>
<line x1="174.5" y1="396.4" x2="236.7" y2="396.4" stroke="#1e642a"/>
<line x1="236.7" y1="396.4" x2="291.1" y2="396.4" stroke="#1e642a"/>
<line x1="291.1" y1="396.4" x2="349.4" y2="396.4" stroke="#1e642a"/>
<line x1="349.4" y1="396.4" x2="404" y2="396.4" stroke="#1e642a"/>
<line x1="404" y1="396.4" x2="462.4" y2="396.4" stroke="#226654"/>
<line x1="462.4" y1="396.4" x2="520.5" y2="396.4" stroke="#226654"/>
<line x1="520.5" y1="396.4" x2="583.8" y2="396.4" stroke="#1e642a"/>
<line x1="583.8" y1="396.4" x2="638" y2="396.4" stroke="#3e7a34"/>
<line x1="638" y1="396.4" x2="696.5" y2="396.4" stroke="#3e7a34"/>
<line x1="696.5" y1="396.4" x2="751" y2="396.4" stroke="#3e7a34"/>
<line x1="751" y1="396.4" x2="810.4" y2="396.4" stroke="#3e7a34"/>
<line x1="810.4" y1="396.4" x2="863.6" y2="396.4" stroke="#6f8b25"/>
<line x1="863.6" y1="396.4" x2="917" y2="396.4" stroke="#6f8b25"/>
<line x1="917" y1="396.4" x2="970.8" y2="396.4" stroke="#6f8b25"/>
<line x1="970.8" y1="396.4" x2="1026.2" y2="396.4" stroke="#327258"/>
<line x1="116.7" y1="433.9" x2="174.5" y2="433.9" stroke="#1e642a"/>
<line x1="174.5" y1="433.9" x2="236.7" y2="433.9" stroke="#1e642a"/>
<line x1="236.7" y1="433.9" x2="291.1" y2="433.9" stroke="#226654"/>
<line x1="291.1" y1="433.9" x2="349.4" y2="433.9" stroke="#1e642a"/>
<line x1="349.4" y1="433.9" x2="404" y2="433.9" stroke="#226654"/>
<line x1="404" y1="433.9" x2="462.4" y2="433.9" stroke="#226654"/>
<line x1="462.4" y1="433.9" x2="520.5" y2="433.9" stroke="#1e642a"/>
<line x1="520.5" y1="433.9" x2="583.8" y2="433.9" stroke="#1e642a"/>
<line x1="583.8" y1="433.9" x2="638" y2="433.9" stroke="#3e7a34"/>
<line x1="638" y1="433.9" x2="696.5" y2="433.9" stroke="#3e7a34"/>
<line x1="696.5" y1="433.9" x2="751" y2="433.9" stroke="#3e7a34"/>
<line x1="751" y1="433.9" x2="810.4" y2="433.9" stroke="#3e7a34"/>
<line x1="810.4" y1="433.9" x2="863.6" y2="433.9" stroke="#a09c16"/>
<line x1="863.6" y1="433.9" x2="917" y2="433.9" stroke="#a09c16"/>
<line x1="917" y1="433.9" x2="970.8" y2="433.9" stroke="#a09c16"/>
<line x1="970.8" y1="433.9" x2="1026.2" y2="433.9" stroke="#63824a"/>
<line x1="116.7" y1="471.4" x2="174.5" y2="471.4" stroke="#543e1e"/>
<line x1="174.5" y1="471.4" x2="236.7" y2="471.4" stroke="#543e1e"/>
<line x1="236.7" y1="471.4" x2="291.1" y2="471.4" stroke="#584048"/>
<line x1="291.1" y1="471.4" x2="349.4" y2="471.4" stroke="#226654"/>
<line x1="349.4" y1="471.4" x2="404" y2="471.4" stroke="#327258"/>
<line x1="404" y1="471.4" x2="462.4" y2="471.4" stroke="#2e6f2f"/>
<line x1="462.4" y1="471.4" x2="520.5" y2="471.4" stroke="#2e6f2f"/>
<line x1="520.5" y1="471.4" x2="583.8" y2="471.4" stroke="#2e6f2f"/>
<line x1="583.8" y1="471.4" x2="638" y2="471.4" stroke="#6f8b25"/>
<line x1="638" y1="471.4" x2="696.5" y2="471.4" stroke="#6f8b25"/>
<line x1="696.5" y1="471.4" x2="751" y2="471.4" stroke="#6f8b25"/>
<line x1="751" y1="471.4" x2="810.4" y2="471.4" stroke="#6f8b25"/>
<line x1="810.4" y1="471.4" x2="863.6" y2="471.4" stroke="#6f8b25"/>
<line x1="863.6" y1="471.4" x2="917" y2="471.4" stroke="#63824a"/>
<line x1="917" y1="471.4" x2="970.8" y2="471.4" stroke="#6f8b25"/>
<line x1="970.8" y1="471.4" x2="1026.2" y2="471.4" stroke="#63824a"/>
<line x1="116.7" y1="508.9" x2="174.5" y2="508.9" stroke="#8a1812"/>
<line x1="174.5" y1="508.9" x2="236.7" y2="508.9" stroke="#8a1812"/>
<line x1="236.7" y1="508.9" x2="291.1" y2="508.9" stroke="#8a1812"/>
<line x1="291.1" y1="508.9" x2="349.4" y2="508.9" stroke="#584048"/>
<line x1="349.4" y1="508.9" x2="404" y2="508.9" stroke="#3e7a34"/>
<line x1="404" y1="508.9" x2="462.4" y2="508.9" stroke="#3e7a34"/>
<line x1="462.4" y1="508.9" x2="520.5" y2="508.9" stroke="#3e7a34"/>
<line x1="520.5" y1="508.9" x2="583.8" y2="508.9" stroke="#3e7a34"/>
<line x1="583.8" y1="508.9" x2="638" y2="508.9" stroke="#a09c16"/>
<line x1="638" y1="508.9" x2="696.5" y2="508.9" stroke="#a09c16"/>
<line x1="696.5" y1="508.9" x2="751" y2="508.9" stroke="#a09c16"/>
<line x1="751" y1="508.9" x2="810.4" y2="508.9" stroke="#a09c16"/>
<line x1="810.4" y1="508.9" x2="863.6" y2="508.9" stroke="#327258"/>
<line x1="863.6" y1="508.9" x2="917" y2="508.9" stroke="#327258"/>
<line x1="917" y1="508.9" x2="970.8" y2="508.9" stroke="#327258"/>
<line x1="970.8" y1="508.9" x2="1026.2" y2="508.9" stroke="#327258"/>
<line x1="116.7" y1="546.4" x2="174.5" y2="546.4" stroke="#8a1812"/>
<line x1="174.5" y1="546.4" x2="236.7" y2="546.4" stroke="#8a1812"/>
<line x1="236.7" y1="546.4" x2="291.1" y2="546.4" stroke="#8a1812"/>
<line x1="291.1" y1="546.4" x2="349.4" y2="546.4" stroke="#8a1812"/>
<line x1="349.4" y1="546.4" x2="404" y2="546.4" stroke="#3e7a34"/>
<line x1="404" y1="546.4" x2="462.4" y2="546.4" stroke="#3e7a34"/>
<line x1="462.4" y1="546.4" x2="520.5" y2="546.4" stroke="#3e7a34"/>
<line x1="520.5" y1="546.4" x2="583.8" y2="546.4" stroke="#3e7a34"/>
<line x1="583.8" y1="546.4" x2="638" y2="546.4" stroke="#a09c16"/>
<line x1="638" y1="546.4" x2="696.5" y2="546.4" stroke="#a09c16"/>
<line x1="696.5" y1="546.4" x2="751" y2="546.4" stroke="#a09c16"/>
<line x1="751" y1="546.4" x2="810.4" y2="546.4" stroke="#a09c16"/>
<line x1="810.4" y1="546.4" x2="863.6" y2="546.4" stroke="#327258"/>
<line x1="863.6" y1="546.4" x2="917" y2="546.4" stroke="#327258"/>
<line x1="917" y1="546.4" x2="970.8" y2="546.4" stroke="#327258"/>
<line x1="970.8" y1="546.4" x2="1026.2" y2="546.4" stroke="#327258"/>
<line x1="116.7" y1="583.9" x2="174.5" y2="583.9" stroke="#8a1812"/>
<line x1="174.5" y1="583.9" x2="236.7" y2="583.9" stroke="#8a1812"/>
<line x1="236.7" y1="583.9" x2="291.1" y2="583.9" stroke="#8a1812"/>
<line x1="291.1" y1="583.9" x2="349.4" y2="583.9" stroke="#8a1812"/>
<line x1="349.4" y1="583.9" x2="404" y2="583.9" stroke="#3e7a34"/>
<line x1="404" y1="583.9" x2="462.4" y2="583.9" stroke="#3e7a34"/>
<line x1="462.4" y1="583.9" x2="520.5" y2="583.9" stroke="#3e7a34"/>
<line x1="520.5" y1="583.9" x2="583.8" y2="583.9" stroke="#3e7a34"/>
<line x1="583.8" y1="583.9" x2="638" y2="583.9" stroke="#a09c16"/>
<line x1="638" y1="583.9" x2="696.5" y2="583.9" stroke="#a09c16"/>
<line x1="696.5" y1="583.9" x2="751" y2="583.9" stroke="#a09c16"/>
<line x1="751" y1="583.9" x2="810.4" y2="583.9" stroke="#a09c16"/>
<line x1="810.4" y1="583.9" x2="863.6" y2="583.9" stroke="#327258"/>
<line x1="863.6" y1="583.9" x2="917" y2="583.9" stroke="#327258"/>
<line x1="917" y1="583.9" x2="970.8" y2="583.9" stroke="#327258"/>
<line x1="970.8" y1="583.9" x2="1026.2" y2="583.9" stroke="#327258"/>
<line x1="116.7" y1="621.4" x2="174.5" y2="621.4" stroke="#8a1812"/>
<line x1="174.5" y1="621.4" x2="236.7" y2="621.4" stroke="#8a1812"/>
<line x1="236.7" y1="621.4" x2="291.1" y2="621.4" stroke="#8a1812"/>
<line x1="291.1" y1="621.4" x2="349.4" y2="621.4" stroke="#8a1812"/>
<line x1="349.4" y1="621.4" x2="404" y2="621.4" stroke="#6f8b25"/>
<line x1="404" y1="621.4" x2="462.4" y2="621.4" stroke="#3e7a34"/>
<line x1="462.4" y1="621.4" x2="520.5" y2="621.4" stroke="#6f8b25"/>
<line x1="520.5" y1="621.4" x2="583.8" y2="621.4" stroke="#6f8b25"/>
<line x1="583.8" y1="621.4" x2="638" y2="621.4" stroke="#6f8b25"/>
<line x1="638" y1="621.4" x2="696.5" y2="621.4" stroke="#63824a"/>
<line x1="696.5" y1="621.4" x2="751" y2="621.4" stroke="#6f8b25"/>
<line x1="751" y1="621.4" x2="810.4" y2="621.4" stroke="#63824a"/>
<line x1="810.4" y1="621.4" x2="863.6" y2="621.4" stroke="#226654"/>
<line x1="863.6" y1="621.4" x2="917" y2="621.4" stroke="#2e6f2f"/>
<line x1="917" y1="621.4" x2="970.8" y2="621.4" stroke="#226654"/>
<line x1="970.8" y1="621.4" x2="1026.2" y2="621.4" stroke="#2e6f2f"/>
<line x1="116.7" y1="658.9" x2="174.5" y2="658.9" stroke="#8a1812"/>
<line x1="174.5" y1="658.9" x2="236.7" y2="658.9" stroke="#8a1812"/>
<line x1="236.7" y1="658.9" x2="291.1" y2="658.9" stroke="#8a1812"/>
<line x1="291.1" y1="658.9" x2="349.4" y2="658.9" stroke="#8a1812"/>
<line x1="349.4" y1="658.9" x2="404" y2="658.9" stroke="#a09c16"/>
<line x1="404" y1="658.9" x2="462.4" y2="658.9" stroke="#3e7a34"/>
<line x1="462.4" y1="658.9" x2="520.5" y2="658.9" stroke="#a09c16"/>
<line x1="520.5" y1="658.9" x2="583.8" y2="658.9" stroke="#a09c16"/>
<line x1="583.8" y1="658.9" x2="638" y2="658.9" stroke="#327258"/>
<line x1="638" y1="658.9" x2="696.5" y2="658.9" stroke="#327258"/>
<line x1="696.5" y1="658.9" x2="751" y2="658.9" stroke="#327258"/>
<line x1="751" y1="658.9" x2="810.4" y2="658.9" stroke="#327258"/>
<line x1="810.4" y1="658.9" x2="863.6" y2="658.9" stroke="#1e642a"/>
<line x1="863.6" y1="658.9" x2="917" y2="658.9" stroke="#1e642a"/>
<line x1="917" y1="658.9" x2="970.8" y2="658.9" stroke="#1e642a"/>
<line x1="970.8" y1="658.9" x2="1026.2" y2="658.9" stroke="#1e642a"/>
<line x1="116.7" y1="696.4" x2="174.5" y2="696.4" stroke="#8a1812"/>
<line x1="174.5" y1="696.4" x2="236.7" y2="696.4" stroke="#8a1812"/>
<line x1="236.7" y1="696.4" x2="291.1" y2="696.4" stroke="#8a1812"/>
<line x1="291.1" y1="696.4" x2="349.4" y2="696.4" stroke="#8a1812"/>
<line x1="349.4" y1="696.4" x2="404" y2="696.4" stroke="#a09c16"/>
<line x1="404" y1="696.4" x2="462.4" y2="696.4" stroke="#3e7a34"/>
<line x1="462.4" y1="696.4" x2="520.5" y2="696.4" stroke="#a09c16"/>
<line x1="520.5" y1="696.4" x2="583.8" y2="696.4" stroke="#a09c16"/>
<line x1="583.8" y1="696.4" x2="638" y2="696.4" stroke="#327258"/>
<line x1="638" y1="696.4" x2="696.5" y2="696.4" stroke="#327258"/>
<line x1="696.5" y1="696.4" x2="751" y2="696.4" stroke="#327258"/>
<line x1="751" y1="696.4" x2="810.4" y2="696.4" stroke="#327258"/>
<line x1="810.4" y1="696.4" x2="863.6" y2="696.4" stroke="#1e642a"/>
<line x1="863.6" y1="696.4" x2="917" y2="696.4" stroke="#1e642a"/>
<line x1="917" y1="696.4" x2="970.8" y2="696.4" stroke="#1e642a"/>
<line x1="970.8" y1="696.4" x2="1026.2" y2="696.4" stroke="#1e642a"/>
<line x1="116.7" y1="733.9" x2="174.5" y2="733.9" stroke="#8a1812"/>
<line x1="174.5" y1="733.9" x2="236.7" y2="733.9" stroke="#8a1812"/>
<line x1="236.7" y1="733.9" x2="291.1" y2="733.9" stroke="#8a1812"/>
<line x1="291.1" y1="733.9" x2="349.4" y2="733.9" stroke="#8a1812"/>
<line x1="349.4" y1="733.9" x2="404" y2="733.9" stroke="#a09c16"/>
<line x1="404" y1="733.9" x2="462.4" y2="733.9" stroke="#3e7a34"/>
<line x1="462.4" y1="733.9" x2="520.5" y2="733.9" stroke="#63824a"/>
<line x1="520.5" y1="733.9" x2="583.8" y2="733.9" stroke="#a09c16"/>
<line x1="583.8" y1="733.9" x2="638" y2="733.9" stroke="#327258"/>
<line x1="638" y1="733.9" x2="696.5" y2="733.9" stroke="#327258"/>
<line x1="696.5" y1="733.9" x2="751" y2="733.9" stroke="#327258"/>
<line x1="751" y1="733.9" x2="810.4" y2="733.9" stroke="#327258"/>
<line x1="810.4" y1="733.9" x2="863.6" y2="733.9" stroke="#1e642a"/>
<line x1="863.6" y1="733.9" x2="917" y2="733.9" stroke="#1e642a"/>
<line x1="917" y1="733.9" x2="970.8" y2="733.9" stroke="#1e642a"/>
<line x1="970.8" y1="733.9" x2="1026.2" y2="733.9" stroke="#1e642a"/>
<line x1="116.7" y1="771.4" x2="174.5" y2="771.4" stroke="#8a1812"/>
<line x1="174.5" y1="771.4" x2="236.7" y2="771.4" stroke="#8a1812"/>
<line x1="236.7" y1="771.4" x2="291.1" y2="771.4" stroke="#8a1812"/>
<line x1="291.1" y1="771.4" x2="349.4" y2="771.4" stroke="#8a1812"/>
<line x1="349.4" y1="771.4" x2="404" y2="771.4" stroke="#a09c16"/>
<line x1="404" y1="771.4" x2="462.4" y2="771.4" stroke="#3e7a34"/>
<line x1="462.4" y1="771.4" x2="520.5" y2="771.4" stroke="#26697d"/>
<line x1="520.5" y1="771.4" x2="583.8" y2="771.4" stroke="#a09c16"/>
<line x1="583.8" y1="771.4" x2="638" y2="771.4" stroke="#26697d"/>
<line x1="638" y1="771.4" x2="696.5" y2="771.4" stroke="#3e7a34"/>
<line x1="696.5" y1="771.4" x2="751" y2="771.4" stroke="#26697d"/>
<line x1="751" y1="771.4" x2="810.4" y2="771.4" stroke="#3e7a34"/>
<line x1="810.4" y1="771.4" x2="863.6" y2="771.4" stroke="#1e642a"/>
<line x1="863.6" y1="771.4" x2="917" y2="771.4" stroke="#1e642a"/>
<line x1="917" y1="771.4" x2="970.8" y2="771.4" stroke="#1e642a"/>
<line x1="970.8" y1="771.4" x2="1026.2" y2="771.4" stroke="#1e642a"/>
</g>
<g font-size="17.2" font-weight="bold" fill="#222" stroke="#222" stroke-width="0.4" text-anchor="middle">
<text x="145.6" y="165" textLength="36.1" lengthAdjust="spacingAndGlyphs">INFP</text>
<text x="205.6" y="165" textLength="40.2" lengthAdjust="spacingAndGlyphs">ENFP</text>
<text x="263.9" y="165" textLength="32.3" lengthAdjust="spacingAndGlyphs">INFJ</text>
<text x="320.2" y="165" textLength="36.4" lengthAdjust="spacingAndGlyphs">ENFJ</text>
<text x="376.7" y="165" textLength="33.0" lengthAdjust="spacingAndGlyphs">INTJ</text>
<text x="433.2" y="165" textLength="37.1" lengthAdjust="spacingAndGlyphs">ENTJ</text>
<text x="491.4" y="165" textLength="36.7" lengthAdjust="spacingAndGlyphs">INTP</text>
<text x="552.1" y="165" textLength="40.9" lengthAdjust="spacingAndGlyphs">ENTP</text>
<text x="610.9" y="165" textLength="32.5" lengthAdjust="spacingAndGlyphs">ISFP</text>
<text x="667.2" y="165" textLength="36.7" lengthAdjust="spacingAndGlyphs">ESFP</text>
<text x="723.8" y="165" textLength="33.2" lengthAdjust="spacingAndGlyphs">ISTP</text>
<text x="780.7" y="165" textLength="37.4" lengthAdjust="spacingAndGlyphs">ESTP</text>
<text x="837.0" y="165" textLength="28.8" lengthAdjust="spacingAndGlyphs">ISFJ</text>
<text x="890.3" y="165" textLength="32.9" lengthAdjust="spacingAndGlyphs">ESFJ</text>
<text x="943.9" y="165" textLength="29.4" lengthAdjust="spacingAndGlyphs">ISTJ</text>
<text x="998.5" y="165" textLength="33.6" lengthAdjust="spacingAndGlyphs">ESTJ</text>
</g>
<g font-size="17.2" font-weight="bold" fill="#222" stroke="#222" stroke-width="0.4">
<text x="55.5" y="203.3" textLength="36.1" lengthAdjust="spacingAndGlyphs">INFP</text>
<text x="55.5" y="240.7" textLength="40.2" lengthAdjust="spacingAndGlyphs">ENFP</text>
<text x="55.5" y="278.1" textLength="32.3" lengthAdjust="spacingAndGlyphs">INFJ</text>
<text x="55.5" y="315.6" textLength="36.4" lengthAdjust="spacingAndGlyphs">ENFJ</text>
<text x="55.5" y="353.0" textLength="33.0" lengthAdjust="spacingAndGlyphs">INTJ</text>
<text x="55.5" y="390.4" textLength="37.1" lengthAdjust="spacingAndGlyphs">ENTJ</text>
<text x="55.5" y="427.8" textLength="36.7" lengthAdjust="spacingAndGlyphs">INTP</text>
<text x="55.5" y="465.2" textLength="40.9" lengthAdjust="spacingAndGlyphs">ENTP</text>
<text x="55.5" y="502.7" textLength="32.5" lengthAdjust="spacingAndGlyphs">ISFP</text>
<text x="55.5" y="540.1" textLength="36.7" lengthAdjust="spacingAndGlyphs">ESFP</text>
<text x="55.5" y="577.5" textLength="33.2" lengthAdjust="spacingAndGlyphs">ISTP</text>
<text x="55.5" y="614.9" textLength="37.4" lengthAdjust="spacingAndGlyphs">ESTP</text>
<text x="55.5" y="652.3" textLength="28.8" lengthAdjust="spacingAndGlyphs">ISFJ</text>
<text x="55.5" y="689.8" textLength="32.9" lengthAdjust="spacingAndGlyphs">ESFJ</text>
<text x="55.5" y="727.2" textLength="29.4" lengthAdjust="spacingAndGlyphs">ISTJ</text>
<text x="55.5" y="764.6" textLength="33.6" lengthAdjust="spacingAndGlyphs">ESTJ</text>
</g>
</svg></div>
<div class="sw" style="left:56px;top:886.1px;background:#b5261c"></div>
<div class="lg" style="left:149.5px;top:886.3px">可以再仔细想一想</div>
<div class="sw" style="left:56px;top:967.2px;background:#fdfc58"></div>
<div class="lg" style="left:149.5px;top:969.4px">不算完美，但也还可以</div>
<div class="sw" style="left:56px;top:1053.9px;background:#a0d263"></div>
<div class="lg" style="left:149.5px;top:1057.2px">有很多方面还蛮合适</div>
<div class="sw" style="left:579px;top:886.1px;background:#52a85b"></div>
<div class="lg" style="left:670.5px;top:886.5px">可以建立起很好的关系</div>
<div class="sw" style="left:579px;top:969px;background:#4fa8eb"></div>
<div class="lg" style="left:670.5px;top:972px">非常理想的匹配</div>
</body></html>
